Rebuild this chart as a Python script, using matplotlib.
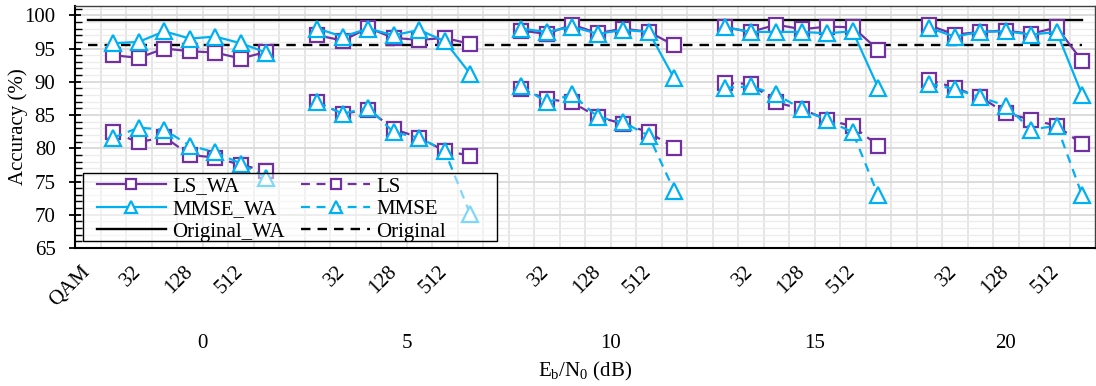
import numpy as np
import matplotlib.pyplot as plt
from matplotlib.patches import Rectangle
from matplotlib.ticker import FixedLocator, MultipleLocator
from matplotlib.transforms import blended_transform_factory

plt.rcParams['font.family'] = ['Liberation Serif', 'DejaVu Serif']
plt.rcParams['mathtext.default'] = 'regular'
plt.rcParams['font.size'] = 15

# Eb/N0 groups and the QAM orders inside each group
eb_n0 = [0, 5, 10, 15, 20]
qam_orders = ['16', '32', '64', '128', '256', '512', '1024']

# accuracy (%), 7 values per Eb/N0 group
ls_wa = [94.0, 93.6, 95.0, 94.6, 94.4, 93.5, 94.5,
         97.0, 96.2, 98.1, 96.6, 96.3, 96.6, 95.7,
         97.7, 97.2, 98.6, 97.3, 98.0, 97.5, 95.5,
         98.2, 97.5, 98.6, 97.9, 98.3, 98.2, 94.8,
         98.5, 97.1, 97.5, 97.7, 97.2, 98.2, 93.1]
mmse_wa = [95.8, 96.0, 97.6, 96.5, 96.8, 95.8, 94.4,
           98.0, 96.8, 98.0, 97.0, 97.8, 96.1, 91.2,
           98.0, 97.5, 98.3, 97.2, 97.8, 97.5, 90.5,
           98.2, 97.5, 97.5, 97.5, 97.3, 97.6, 89.1,
           98.1, 96.8, 97.5, 97.6, 97.1, 97.5, 88.0]
ls = [82.4, 80.9, 81.7, 79.0, 78.6, 77.5, 76.6,
      86.9, 85.2, 85.8, 82.9, 81.6, 79.6, 78.9,
      88.9, 87.4, 86.9, 84.7, 83.7, 82.4, 80.1,
      89.8, 89.7, 86.9, 85.9, 84.3, 83.3, 80.4,
      90.3, 89.1, 87.7, 85.3, 84.3, 83.4, 80.6]
mmse = [81.6, 83.1, 82.8, 80.4, 79.4, 77.7, 75.6,
        86.9, 85.2, 86.1, 82.4, 81.6, 79.6, 70.1,
        89.4, 86.9, 88.1, 84.7, 83.9, 81.9, 73.6,
        89.1, 89.3, 88.1, 85.9, 84.2, 82.4, 72.9,
        89.7, 88.9, 87.7, 86.4, 82.8, 83.4, 72.9]
original_wa = 99.3
original = 95.6

PURPLE = '#7030A0'
BLUE = '#00B0F0'

# Excel-like category axis: "QAM" slot, then 7 orders + one empty slot per group
n_slots = 1 + 8 * len(eb_n0) - 1
x = np.arange(n_slots)
cat_labels = ['QAM']
for g in eb_n0:
    cat_labels += qam_orders + ['']
cat_labels = cat_labels[:n_slots]


def spread(vals):
    y = np.full(n_slots, np.nan)
    for g in range(len(eb_n0)):
        for j in range(len(qam_orders)):
            y[1 + 8 * g + j] = vals[g * len(qam_orders) + j]
    return y


fig = plt.figure(figsize=(10.96, 3.86), dpi=100)
ax = fig.add_axes([75 / 1096, 138 / 386, 1020 / 1096, 242 / 386])

sq = dict(marker='s', ms=10.5, mfc='white', mew=1.6, lw=1.6)
tri = dict(marker='^', ms=11.5, mfc='white', mew=1.6, lw=1.6)

ax.plot(x, np.full(n_slots, original_wa), color='black', lw=1.7, label='Original_WA', zorder=2)
ax.plot(x, np.full(n_slots, original), color='black', lw=1.7, ls=(0, (4, 3)), label='Original', zorder=2)
ax.plot(x, spread(ls_wa), color=PURPLE, label='LS_WA', zorder=4, **sq)
ax.plot(x, spread(mmse_wa), color=BLUE, label='MMSE_WA', zorder=5, **tri)
ax.plot(x, spread(ls), color=PURPLE, ls=(0, (4, 3)), label='LS', zorder=4, **sq)
ax.plot(x, spread(mmse), color=BLUE, ls=(0, (4, 3)), label='MMSE', zorder=5, **tri)

ax.set_xlim(-0.5, n_slots - 0.5)
ax.set_ylim(65, 101.4)
ax.set_yticks(range(65, 101, 5))
ax.yaxis.set_minor_locator(MultipleLocator(1))
ax.set_xticks(x[::2])
ax.set_xticklabels(cat_labels[::2], rotation=45, ha='right', va='center', rotation_mode='anchor')
ax.xaxis.set_minor_locator(FixedLocator(np.arange(0.5, n_slots - 0.5)))

ax.tick_params(axis='x', which='both', length=0, pad=15)
ax.tick_params(axis='y', which='major', direction='inout', length=8, width=1.3, pad=10)
ax.tick_params(axis='y', which='minor', direction='in', length=5, width=1.0)

ax.set_axisbelow(True)
ax.grid(axis='y', which='major', color='#d9d9d9', lw=1.3)
ax.grid(axis='y', which='minor', color='#ececec', lw=1.0)
ax.grid(axis='x', which='minor', color='#e3e3e3', lw=1.3)

for side in ['left', 'bottom']:
    ax.spines[side].set_color('black')
    ax.spines[side].set_linewidth(1.5)
for side in ['top', 'right']:
    ax.spines[side].set_color('#404040')
    ax.spines[side].set_linewidth(1.0)

# group labels under the QAM labels
trans = blended_transform_factory(ax.transData, ax.transAxes)
for g, val in enumerate(eb_n0):
    start = 1 + 8 * g
    end = min(start + 7, n_slots - 1)
    ax.text((start + end) / 2, -0.393, str(val), transform=trans, ha='center', va='center')

ax.text(0.5, -0.512, 'E$_b$/N$_0$ (dB)', transform=ax.transAxes, ha='center', va='center')
ax.text(-57 / 1020, 0.5, 'Accuracy (%)', transform=ax.transAxes, rotation=90, ha='center', va='center')

# semi-transparent legend box, drawn separately (Excel leaves extra room on the right)
ax.add_patch(Rectangle((8 / 1020, 7 / 242), 414 / 1020, 68 / 242, transform=ax.transAxes,
                       facecolor=(1, 1, 1, 0.5), edgecolor='black', lw=1.0, zorder=9))
h, l = ax.get_legend_handles_labels()
order = ['LS_WA', 'MMSE_WA', 'Original_WA', 'LS', 'MMSE', 'Original']
handles = [h[l.index(name)] for name in order]
leg = ax.legend(handles, order, loc='upper left', bbox_to_anchor=(22 / 1020, 71 / 242), ncol=2,
                frameon=False, handlelength=3.3, handletextpad=0.3, columnspacing=0.8,
                labelspacing=0.14, borderpad=0, borderaxespad=0, markerscale=0.75, fontsize=15)
leg.set_zorder(10)

fig.savefig('out.png', dpi=100)
